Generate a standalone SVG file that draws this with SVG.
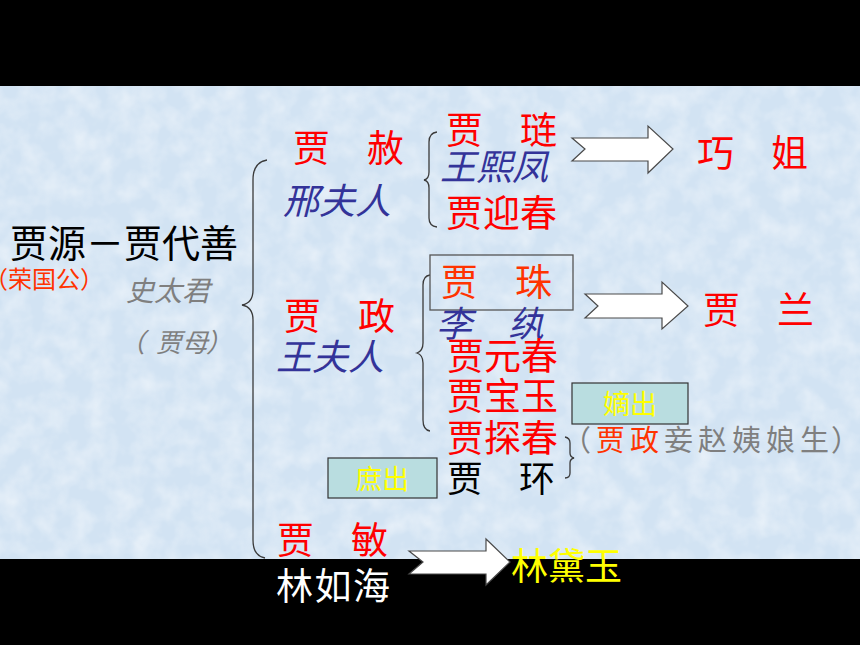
<svg xmlns="http://www.w3.org/2000/svg" width="860" height="645" viewBox="0 0 860 645">
<defs>
<style>
text{font-family:"Noto Sans CJK SC","Noto Sans",sans-serif;}
.red{fill:#ff0000;font-size:37px;}
.org{fill:#ff3300;}
.blue{fill:#333399;font-size:36px;font-style:italic;}
.gray{fill:#7f7f7f;font-style:italic;}
.brace{fill:none;stroke:#3a3a3a;stroke-width:1.3;}
.arrow{fill:#ffffff;stroke:#4a4a4a;stroke-width:1.2;stroke-linejoin:miter;}
.tag{fill:#b9dde0;stroke:#333333;stroke-width:1.2;}
.tagt{fill:#ffff00;font-size:27px;text-anchor:middle;}
</style>
<filter id="tex" x="0" y="0" width="100%" height="100%">
<feTurbulence type="fractalNoise" baseFrequency="0.045" numOctaves="3" seed="4" result="n"/>
<feColorMatrix in="n" type="matrix" values="0 0 0 0 1  0 0 0 0 1  0 0 0 0 1  0 0 0 -1.6 1.05" result="w"/>
<feComposite in="w" in2="SourceGraphic" operator="in"/>
</filter>
</defs>

<g id="background">
<rect x="0" y="0" width="860" height="645" fill="#000000"/>
<rect x="0" y="86" width="860" height="473" fill="#d2e3f3"/>
<rect x="0" y="86" width="860" height="473" fill="#d2e3f3" filter="url(#tex)" opacity="0.5"/>
</g>

<g id="connectors">
<path class="brace" d="M267,160 Q253,162 253,180 L253,290 Q253,303 242,305 Q253,307 253,320 L253,540 Q253,556 265,558"/>
<path class="brace" d="M437,132 Q429,133 429,142 L429,172 Q429,179 424,180 Q429,181 429,188 L429,218 Q429,226 437,227"/>
<path class="brace" d="M430,275 Q423,276 423,285 L423,343 Q423,351 417,353 Q423,355 423,363 L423,420 Q423,430 430,431"/>
<path class="brace" d="M565,437 Q570,438 570,443 L570,453 Q570,457 574,458 Q570,459 570,463 L570,473 Q570,478 565,478"/>
<polygon class="arrow" points="572,138 648,138 648,126 673,149 648,173 648,161 572,161 585,149"/>
<polygon class="arrow" points="585,294 662,294 662,282 688,306 662,329 662,318 585,318 598,306"/>
<polygon class="arrow" points="409,551 486,551 486,539 510,562 486,585 486,574 409,574 423,562"/>
</g>

<g id="n-root">
<text x="10" y="257" font-size="38" fill="#000000">贾源－贾代善</text>
<text x="-16" y="288" font-size="24" class="org">（荣国公）</text>
<text x="126" y="301" font-size="28" class="gray">史太君</text>
<text y="352" font-size="26" class="gray"><tspan x="119">（</tspan><tspan x="156">贾母</tspan><tspan x="206">）</tspan></text>
</g>

<g id="n-jiashe">
<text x="293" y="162" class="red" font-size="38">贾　赦</text>
<text x="283" y="214" class="blue">邢夫人</text>
</g>

<g id="n-jialian">
<text x="446" y="144" class="red">贾　琏</text>
<text x="440" y="180" class="blue" font-size="37">王熙凤</text>
</g>

<g id="n-yingchun">
<text x="446" y="227" class="red">贾迎春</text>
</g>

<g id="n-qiaojie">
<text x="697" y="167" class="red" font-size="35">巧　姐</text>
</g>

<g id="n-jiazheng">
<text x="284" y="330" class="red" font-size="38">贾　政</text>
<text x="276" y="370" class="blue">王夫人</text>
</g>

<g id="n-jiazhu">
<rect x="430" y="255" width="143" height="55" fill="none" stroke="#555555" stroke-width="1.3"/>
<text x="441" y="296" class="red org">贾　珠</text>
<text x="436" y="337" class="blue" font-size="37">李　纨</text>
</g>

<g id="n-jialan">
<text x="703" y="324" class="red" font-size="38">贾　兰</text>
</g>

<g id="n-yuanchun">
<text x="447" y="370" class="red">贾元春</text>
</g>

<g id="n-baoyu">
<text x="447" y="410" class="red">贾宝玉</text>
</g>

<g id="n-dichu">
<rect class="tag" x="572" y="383" width="116" height="41"/>
<text class="tagt" x="630" y="414">嫡出</text>
</g>

<g id="n-tanchun">
<text x="447" y="452" class="red">贾探春</text>
</g>

<g id="n-jiahuan">
<text x="447" y="492" font-size="36" fill="#000000">贾　环</text>
</g>

<g id="n-shuchu">
<rect class="tag" x="328" y="458" width="109" height="40"/>
<text class="tagt" x="382" y="489">庶出</text>
</g>

<g id="n-zhao">
<text x="562" y="451" font-size="29" fill="#7f7f7f"><tspan letter-spacing="5">（<tspan fill="#ff3300">贾政</tspan>妾赵姨娘生</tspan><tspan x="831">）</tspan></text>
</g>

<g id="n-jiamin">
<text x="277" y="554" class="red" font-size="38">贾　敏</text>
<text x="276" y="600" font-size="37" letter-spacing="1.5" fill="#ffffff">林如海</text>
</g>

<g id="n-daiyu">
<text x="511" y="580" font-size="37" fill="#ffff00">林黛玉</text>
</g>
</svg>
